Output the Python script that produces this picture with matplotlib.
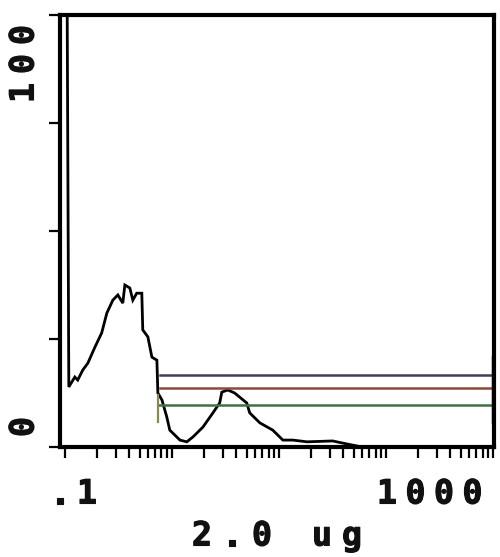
import matplotlib.pyplot as plt
import numpy as np
import matplotlib.patheffects as pe
from matplotlib.ticker import FixedLocator, NullFormatter

# histogram trace (fluorescence, % of max)
fluor = [0.104, 0.109, 0.124, 0.132, 0.147, 0.164, 0.191, 0.221, 0.247, 0.281,
         0.313, 0.348, 0.364, 0.405, 0.432, 0.470, 0.524, 0.535, 0.597, 0.651,
         0.725, 0.740, 0.808, 0.898, 0.957, 1.19, 1.38, 1.57, 1.95, 2.42,
         2.80, 2.93, 3.33, 3.86, 5.01, 5.34, 6.63, 8.77, 10.9, 13.5,
         18.3, 31.8, 39.5, 60.0, 200.0, 1000.0]
counts = [130, 13.9, 16.2, 15.5, 17.8, 19.4, 23.1, 26.4, 31.0, 34.0,
          35.2, 33.3, 37.5, 36.8, 34.0, 35.6, 35.6, 27.1, 25.5, 20.8,
          20.1, 12.5, 10.9, 6.9, 3.9, 1.6, 1.2, 2.3, 4.6, 7.9,
          10.2, 12.7, 13.2, 12.5, 10.2, 7.9, 5.6, 3.9, 1.6, 1.6,
          1.2, 1.4, 0.9, 0.0, 0.0, 0.0]

# gate markers
gate_start = [0.77, 0.77, 0.74]
gate_level = [16.7, 13.7, 9.7]
gate_color = ['#3d3f5c', '#8c4a3c', '#3f7242']
gate_end = 1000.0

yticks = [0, 25, 50, 75, 100]

W, H = 500, 557
fig = plt.figure(figsize=(W / 100, H / 100), dpi=100)
fig.patch.set_facecolor('white')
ax = fig.add_axes([60 / W, 1 - 447 / H, 434 / W, 432 / H])

ax.plot(fluor, counts, color='black', lw=2, solid_joinstyle='miter')

for s, lvl, c in zip(gate_start, gate_level, gate_color):
    ax.plot([s, gate_end], [lvl, lvl], color=c, lw=1.8)
ax.plot([0.74, 0.74], [5.8, 12.0], color='#8a8a50', lw=1.6)
ax.plot([gate_end, gate_end], [5.8, 20.8], color='#222222', lw=2.5)

ax.set_xscale('log')
ax.set_xlim(10 ** -1.045, 10 ** 3.01)
ax.set_ylim(0, 100)

majors = [0.1, 1, 10, 100, 1000]
minors = [m * d for d in [0.1, 1, 10, 100] for m in range(2, 10)]
ax.xaxis.set_major_locator(FixedLocator(majors))
ax.xaxis.set_minor_locator(FixedLocator(minors))
ax.xaxis.set_major_formatter(NullFormatter())
ax.xaxis.set_minor_formatter(NullFormatter())
ax.set_yticks(yticks)
ax.set_yticklabels([])
ax.tick_params(which='both', direction='out', length=8, width=1.6, color='black')

for sp in ax.spines.values():
    sp.set_linewidth(3)

font = dict(family='DejaVu Sans Mono', weight='bold', size=24, color='#111111')
heavy = [pe.withStroke(linewidth=0.8, foreground='#111111')]


def put_text(s, x0, y0, pitch, rotation=0):
    # place characters one by one to imitate the wide instrument font
    for i, ch in enumerate(s):
        if rotation == 0:
            x, y = x0 + i * pitch, y0
        else:
            x, y = x0, y0 - i * pitch
        fig.text(x / W, 1 - y / H, ch, ha='center', va='center',
                 rotation=rotation, path_effects=heavy, **font)


put_text('.1', 60, 494, 27)
put_text('1000', 387, 494, 28.5)
put_text('2.0 ug', 202, 536, 30)
put_text('100', 24, 93, 29, rotation=90)
put_text('0', 24, 427, 29, rotation=90)

fig.savefig('out.png', dpi=100, facecolor='white')
